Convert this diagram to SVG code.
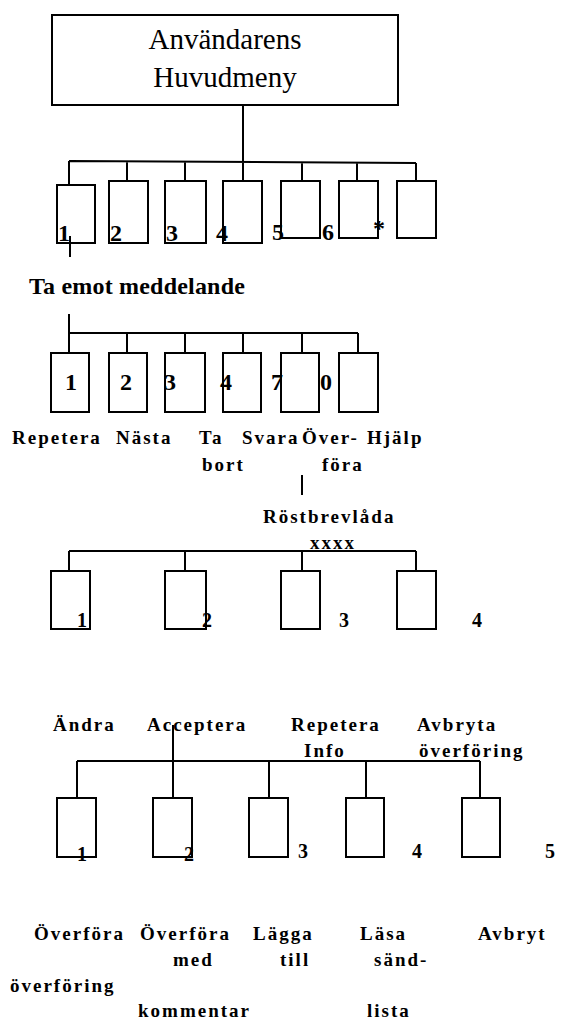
<svg xmlns="http://www.w3.org/2000/svg" width="577" height="1021" viewBox="0 0 577 1021">
<style>
.box{fill:none;stroke:#000;stroke-width:2}
.ln{fill:none;stroke:#000;stroke-width:2}
text{font-family:"Liberation Serif","Times New Roman",Times,serif;fill:#000}
.title{font-size:29px}
.big{font-size:24px;font-weight:700;letter-spacing:0.2px}
.dig{font-size:24px;font-weight:700}
.dig2{font-size:20px;font-weight:700}
.lbl{font-size:19px;font-weight:700;letter-spacing:2px}
</style>
<rect width="577" height="1021" fill="#fff"/>
<g id="connectors">
<path class="ln" d="M243 105V162M69 161L416 163M69 161V185M127 162V181M185 162V181M243 162V181M302 162V181M357 163V181M416 163V181"/>
<path class="ln" d="M70 236V257"/>
<path class="ln" d="M69 314V353M69 333H358M127 333V353M185 333V353M243 333V353M302 333V353M358 333V353"/>
<path class="ln" d="M302 475V495"/>
<path class="ln" d="M69 551H416M69 551V571M185 551V571M302 551V571M416 551V571"/>
<path class="ln" d="M173 725V798M77 761H480M77 761V798M269 761V798M366 761V798M480 761V798"/>
</g>
<g id="root">
<rect class="box" x="52" y="15" width="346" height="90"/>
<text class="title" x="225" y="49" text-anchor="middle">Användarens</text>
<text class="title" x="225" y="87" text-anchor="middle">Huvudmeny</text>
</g>
<g id="row1">
<rect class="box" x="57" y="185" width="38" height="58"/>
<rect class="box" x="109" y="181" width="39" height="62"/>
<rect class="box" x="165" y="181" width="41" height="62"/>
<rect class="box" x="223" y="181" width="39" height="62"/>
<rect class="box" x="281" y="181" width="39" height="57"/>
<rect class="box" x="339" y="181" width="39" height="57"/>
<rect class="box" x="397" y="181" width="39" height="57"/>
<text class="dig" x="58" y="241">1</text>
<text class="dig" x="110" y="241">2</text>
<text class="dig" x="166" y="241">3</text>
<text class="dig" x="216" y="241">4</text>
<text class="dig" x="272" y="240">5</text>
<text class="dig" x="322" y="240">6</text>
<text class="dig" x="373" y="236">*</text>
</g>
<g id="ta-emot">
<text class="big" x="29" y="294">Ta emot meddelande</text>
</g>
<g id="row2">
<rect class="box" x="51" y="353" width="38" height="59"/>
<rect class="box" x="109" y="353" width="38" height="59"/>
<rect class="box" x="165" y="353" width="40" height="59"/>
<rect class="box" x="223" y="353" width="38" height="59"/>
<rect class="box" x="281" y="353" width="38" height="59"/>
<rect class="box" x="339" y="353" width="39" height="59"/>
<text class="dig" x="65" y="390">1</text>
<text class="dig" x="120" y="390">2</text>
<text class="dig" x="164" y="390">3</text>
<text class="dig" x="220" y="390">4</text>
<text class="dig" x="271" y="390">7</text>
<text class="dig" x="320" y="390">0</text>
<text class="lbl" x="12" y="444">Repetera</text>
<text class="lbl" x="116" y="444">Nästa</text>
<text class="lbl" x="199" y="444">Ta</text>
<text class="lbl" x="202" y="471">bort</text>
<text class="lbl" x="242" y="444">Svara</text>
<text class="lbl" x="302" y="444">Över-</text>
<text class="lbl" x="322" y="471">föra</text>
<text class="lbl" x="367" y="444">Hjälp</text>
</g>
<g id="rostbrevlada">
<text class="lbl" x="263" y="523">Röstbrevlåda</text>
<text class="lbl" x="310" y="549">xxxx</text>
</g>
<g id="row3">
<rect class="box" x="51" y="571" width="39" height="58"/>
<rect class="box" x="165" y="571" width="41" height="58"/>
<rect class="box" x="281" y="571" width="39" height="58"/>
<rect class="box" x="397" y="571" width="39" height="58"/>
<text class="dig2" x="77" y="627">1</text>
<text class="dig2" x="202" y="627">2</text>
<text class="dig2" x="339" y="627">3</text>
<text class="dig2" x="472" y="627">4</text>
<text class="lbl" x="53" y="731">Ändra</text>
<text class="lbl" x="147" y="731">Acceptera</text>
<text class="lbl" x="291" y="731">Repetera</text>
<text class="lbl" x="304" y="757">Info</text>
<text class="lbl" x="417" y="731">Avbryta</text>
<text class="lbl" x="419" y="757">överföring</text>
</g>
<g id="row4">
<rect class="box" x="57" y="798" width="39" height="59"/>
<rect class="box" x="153" y="798" width="39" height="59"/>
<rect class="box" x="249" y="798" width="39" height="59"/>
<rect class="box" x="346" y="798" width="38" height="59"/>
<rect class="box" x="462" y="798" width="38" height="59"/>
<text class="dig2" x="77" y="861">1</text>
<text class="dig2" x="184" y="861">2</text>
<text class="dig2" x="298" y="858">3</text>
<text class="dig2" x="412" y="858">4</text>
<text class="dig2" x="545" y="858">5</text>
<text class="lbl" x="34" y="940">Överföra</text>
<text class="lbl" x="140" y="940">Överföra</text>
<text class="lbl" x="173" y="966">med</text>
<text class="lbl" x="138" y="1017">kommentar</text>
<text class="lbl" x="253" y="940">Lägga</text>
<text class="lbl" x="280" y="966">till</text>
<text class="lbl" x="360" y="940">Läsa</text>
<text class="lbl" x="374" y="966">sänd-</text>
<text class="lbl" x="367" y="1017">lista</text>
<text class="lbl" x="478" y="940">Avbryt</text>
<text class="lbl" x="10" y="992">överföring</text>
</g>
</svg>
